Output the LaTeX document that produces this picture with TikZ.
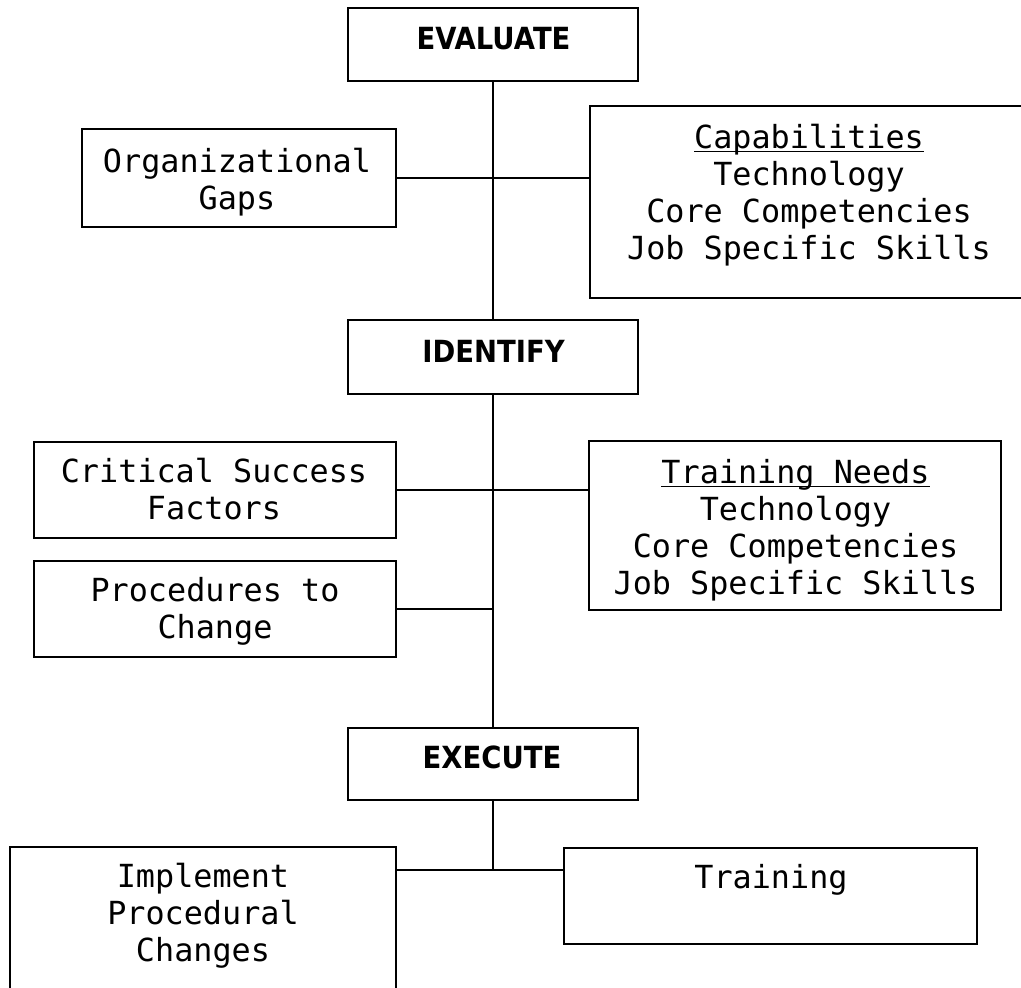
\documentclass[tikz,border=0pt]{standalone}
\usepackage{fontspec}
\setmonofont{DejaVu Sans Mono}
\newfontfamily\hdfont{DejaVu Sans}[FakeStretch=0.9]
\newcommand\myul[1]{\setbox0\hbox{#1}\rlap{\rule[-4pt]{\wd0}{1.5pt}}\box0}
\tikzset{
  box/.style={draw, line width=1.8pt, inner sep=0pt, rectangle},
  txt/.style={inner sep=0pt, align=center, font=\fontsize{31.8}{37}\selectfont\ttfamily},
  hd/.style={inner sep=0pt, font=\fontsize{30.5}{36}\selectfont\hdfont\bfseries},
  conn/.style={line width=1.3pt}
}
\begin{document}
\begin{tikzpicture}[x=1pt,y=-1pt]
\useasboundingbox (0,0) rectangle (1021,988);
\clip (0,0) rectangle (1021,988);
\fill[white] (0,0) rectangle (1021,988);
% boxes
\node[box, minimum width=290, minimum height=73] (eval) at (493,44.5) {};
\node[box, minimum width=314, minimum height=98] (org) at (239,178) {};
\node[box, minimum width=440, minimum height=192] (cap) at (810,202) {};
\node[box, minimum width=290, minimum height=74] (ident) at (493,357) {};
\node[box, minimum width=362, minimum height=96] (csf) at (215,490) {};
\node[box, minimum width=412, minimum height=169] (tn) at (795,525.5) {};
\node[box, minimum width=362, minimum height=96] (proc) at (215,609) {};
\node[box, minimum width=290, minimum height=72] (exec) at (493,764) {};
\node[box, minimum width=386, minimum height=163] (impl) at (203,928.5) {};
\node[box, minimum width=413, minimum height=96] (train) at (770.5,896) {};
% texts
\node[hd] (evalt) at (493.5,38.5) {EVALUATE};
\node[txt] (orgt) at (237,182) {Organizational\\Gaps};
\node[txt] (capt) at (809,195) {\myul{Capabilities}\\Technology\\Core Competencies\\Job Specific Skills};
\node[hd] (identt) at (493.5,351) {IDENTIFY};
\node[txt] (csft) at (214,489) {Critical Success\\Factors};
\node[txt] (tnt) at (795.5,530) {\myul{Training Needs}\\Technology\\Core Competencies\\Job Specific Skills};
\node[txt] (proct) at (215,611) {Procedures to\\Change};
\node[hd] (exect) at (492,757.5) {EXECUTE};
\node[txt] (implt) at (203,916) {Implement\\Procedural\\Changes};
\node[txt] (traint) at (771,880) {Training};
% connectors
\coordinate (j) at (493,870);
\draw[conn] (eval.south) -- (ident.north);
\draw[conn] (org.east) -- (org.east -| cap.west);
\draw[conn] (ident.south) -- (exec.north);
\draw[conn] (csf.east) -- (csf.east -| tn.west);
\draw[conn] (proc.east) -- (proc.east -| ident.south);
\draw[conn] (exec.south) -- (j);
\draw[conn] (j -| impl.east) -- (j -| train.west);
\end{tikzpicture}
\end{document}
